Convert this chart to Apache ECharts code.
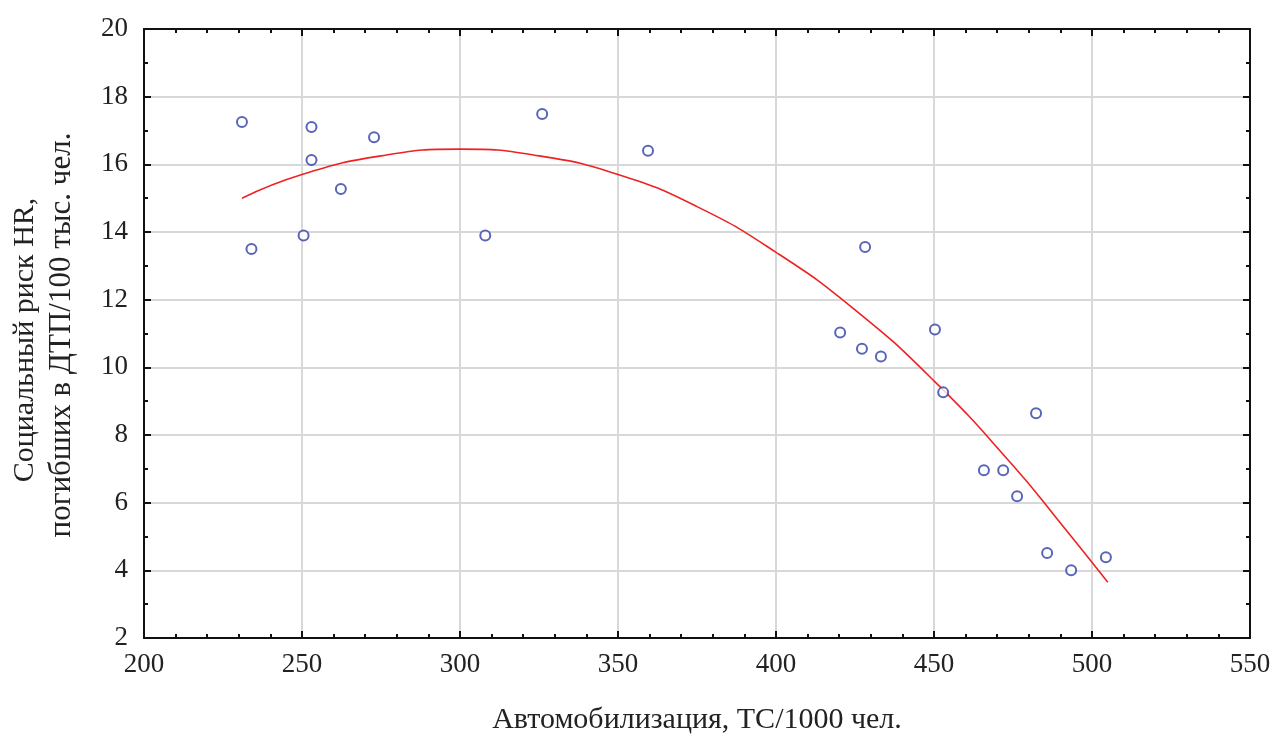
<!DOCTYPE html>
<html><head><meta charset="utf-8">
<script src="https://cdn.jsdelivr.net/npm/echarts@6/dist/echarts.min.js"></script>
<style>html,body{margin:0;padding:0;background:#fff}#c{width:1274px;height:740px}</style>
</head><body><div id="c"></div>
<script>
const xTitle = 'Автомобилизация, ТС/1000 чел.';
const yTitle1 = 'Социальный риск HR,';
const yTitle2 = 'погибших в ДТП/100 тыс. чел.';
const pointsX = [231, 234, 250.5, 253, 253, 262.3, 272.8, 308, 326, 359.5, 420.3, 428.2, 427.2, 433.2, 450.3, 452.9, 465.8, 471.9, 476.3, 482.3, 485.8, 493.4, 504.4];
const pointsY = [17.25, 13.5, 13.9, 17.1, 16.13, 15.27, 16.8, 13.9, 17.49, 16.4, 11.03, 13.56, 10.55, 10.32, 11.12, 9.26, 6.96, 6.96, 6.19, 8.64, 4.51, 4.0, 4.39];
const curveX = [231, 250, 275, 300, 325, 350, 375, 400, 425, 450, 475, 490, 505];
const curveY = [15.0, 15.7, 16.25, 16.45, 16.25, 15.7, 14.75, 13.4, 11.7, 9.6, 7.1, 5.4, 3.65];

const font = 'Liberation Serif';
const chart = echarts.init(document.getElementById('c'));
const axisLine = {show: true, lineStyle: {color: '#111', width: 2}};
const tick = {show: true, inside: true, length: 7, lineStyle: {color: '#111', width: 2}};
chart.setOption({
  animation: false,
  grid: {left: 144, right: 24, top: 29, bottom: 101, containLabel: false},
  xAxis: [{
    type: 'value', min: 200, max: 550, interval: 50,
    axisLine: axisLine, axisTick: tick,
    minorTick: {show: true, splitNumber: 5, length: 4, lineStyle: {color: '#111', width: 2}},
    axisLabel: {color: '#222', fontFamily: font, fontSize: 27, margin: 13},
    splitLine: {show: true, lineStyle: {color: '#d8d8d8', width: 2}},
    name: xTitle, nameLocation: 'middle', nameGap: 67,
    nameTextStyle: {color: '#222', fontFamily: font, fontSize: 30}
  }, {
    type: 'value', position: 'top', min: 200, max: 550, interval: 50,
    axisLine: axisLine, axisTick: tick,
    minorTick: {show: true, splitNumber: 5, length: 4, lineStyle: {color: '#111', width: 2}},
    axisLabel: {show: false}, splitLine: {show: false}
  }],
  yAxis: [{
    type: 'value', min: 2, max: 20, interval: 2,
    axisLine: axisLine, axisTick: tick,
    minorTick: {show: true, splitNumber: 2, length: 4, lineStyle: {color: '#111', width: 2}},
    axisLabel: {color: '#222', fontFamily: font, fontSize: 27, margin: 16},
    splitLine: {show: true, lineStyle: {color: '#d8d8d8', width: 2}}
  }, {
    type: 'value', position: 'right', min: 2, max: 20, interval: 2,
    axisLine: axisLine, axisTick: tick,
    minorTick: {show: true, splitNumber: 2, length: 4, lineStyle: {color: '#111', width: 2}},
    axisLabel: {show: false}, splitLine: {show: false}
  }],
  graphic: [
    {type: 'text', x: 25, y: 340, rotation: Math.PI / 2,
     style: {text: yTitle1, fill: '#222', font: '30px "Liberation Serif"', textAlign: 'center', textVerticalAlign: 'middle'}},
    {type: 'text', x: 62, y: 335, rotation: Math.PI / 2,
     style: {text: yTitle2, fill: '#222', font: '31px "Liberation Serif"', textAlign: 'center', textVerticalAlign: 'middle'}}
  ],
  series: [{
    type: 'line', smooth: true, showSymbol: false,
    data: curveX.map((x, i) => [x, curveY[i]]),
    lineStyle: {color: '#ee2222', width: 1.6}, z: 2
  }, {
    type: 'scatter', symbol: 'circle', symbolSize: 10,
    data: pointsX.map((x, i) => [x, pointsY[i]]),
    itemStyle: {color: '#fff', borderColor: '#2f3fa6', borderWidth: 2}, z: 3
  }]
});
</script></body></html>
